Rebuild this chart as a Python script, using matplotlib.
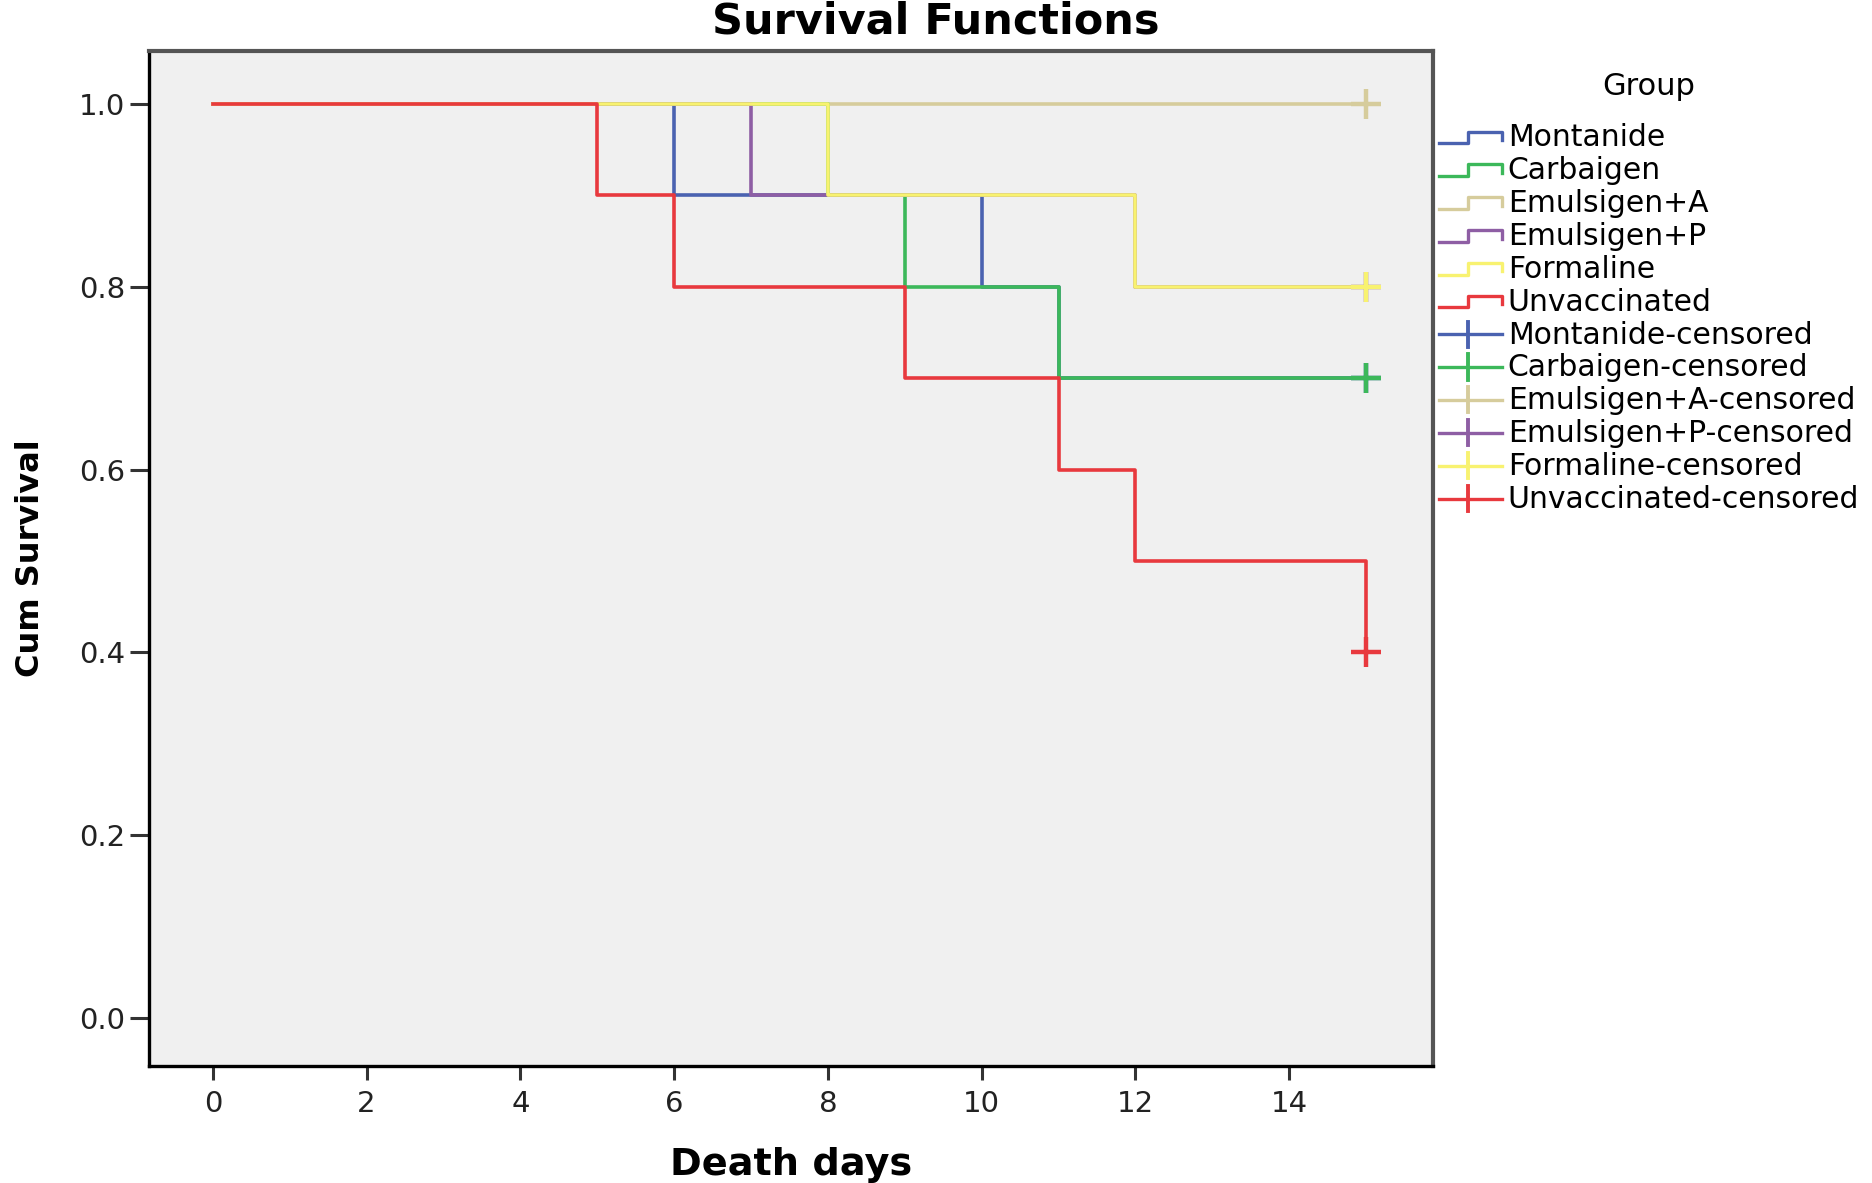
import matplotlib
matplotlib.use("Agg")
import matplotlib.pyplot as plt
from matplotlib.lines import Line2D
from matplotlib.legend_handler import HandlerBase

groups = ["Montanide", "Carbaigen", "Emulsigen+A", "Emulsigen+P", "Formaline", "Unvaccinated"]
colors = ["#4a62b0", "#3cb85a", "#d6cc9c", "#8e5ea4", "#f8f270", "#e8393e"]

# step times and cumulative survival for each group
mont_t = [0, 6, 10, 11, 15]
mont_s = [1.0, 0.9, 0.8, 0.7, 0.7]
carb_t = [0, 8, 9, 11, 15]
carb_s = [1.0, 0.9, 0.8, 0.7, 0.7]
emua_t = [0, 15]
emua_s = [1.0, 1.0]
emup_t = [0, 7, 12, 15]
emup_s = [1.0, 0.9, 0.8, 0.8]
form_t = [0, 8, 12, 15]
form_s = [1.0, 0.9, 0.8, 0.8]
unv_t = [0, 5, 6, 9, 11, 12, 15]
unv_s = [1.0, 0.9, 0.8, 0.7, 0.6, 0.5, 0.4]

# censored observations (last time, last survival)
cens_t = [15, 15, 15, 15, 15, 15]
cens_s = [0.7, 0.7, 1.0, 0.8, 0.8, 0.4]

times = [mont_t, carb_t, emua_t, emup_t, form_t, unv_t]
survs = [mont_s, carb_s, emua_s, emup_s, form_s, unv_s]
# drawing order (bottom to top)
order = [2, 0, 1, 3, 4, 5]

xticks = [0, 2, 4, 6, 8, 10, 12, 14]
yticks = [0.0, 0.2, 0.4, 0.6, 0.8, 1.0]


class StepHandler(HandlerBase):
    def create_artists(self, legend, orig, xd, yd, w, h, fs, trans):
        y0 = yd + h * 0.15
        y1 = y0 + h * 0.55
        xs = [xd, xd + w * 0.47, xd + w * 0.47, xd + w, xd + w]
        ys = [y0, y0, y1, y1, y1 - h * 0.4]
        ln = Line2D(xs, ys, color=orig.get_color(), lw=2.4, transform=trans)
        return [ln]


class CensHandler(HandlerBase):
    def create_artists(self, legend, orig, xd, yd, w, h, fs, trans):
        yc = yd + h * 0.45
        a = Line2D([xd, xd + w], [yc, yc], color=orig.get_color(), lw=2.4, transform=trans)
        b = Line2D([xd + w * 0.47, xd + w * 0.47], [yc - h * 0.6, yc + h * 0.6],
                   color=orig.get_color(), lw=2.8, transform=trans)
        return [a, b]


plt.rcParams["font.family"] = "DejaVu Sans"
fig = plt.figure(figsize=(18.72, 11.83), dpi=100)
ax = fig.add_axes([149 / 1872, 1 - 1066 / 1183, (1433 - 149) / 1872, (1066 - 51) / 1183])
ax.set_facecolor("#f0f0f0")

for i in order:
    ax.step(times[i], survs[i], where="post", color=colors[i], lw=2.6, zorder=2 + order.index(i))
    ax.plot(cens_t[i], cens_s[i], marker="+", ms=21, mew=3.2, color=colors[i],
            linestyle="none", zorder=2 + order.index(i))

ax.set_xlim(-0.83, 15.87)
ax.set_ylim(-0.0525, 1.058)
ax.set_xticks(xticks)
ax.set_yticks(yticks)
ax.set_yticklabels(["%.1f" % v for v in yticks])
ax.tick_params(direction="out", width=2.2, color="#333333", labelsize=21, labelcolor="#222222")
ax.tick_params(axis="y", length=14, pad=3)
ax.tick_params(axis="x", length=10, pad=7)
for s in ["left", "bottom"]:
    ax.spines[s].set_linewidth(2.4)
    ax.spines[s].set_color("black")
for s in ["top", "right"]:
    ax.spines[s].set_linewidth(3)
    ax.spines[s].set_color("#555555")

ax.set_xlabel("Death days", fontsize=27.5, fontweight="bold", labelpad=21)
ax.set_ylabel("Cum Survival", fontsize=23, fontweight="bold", labelpad=24)
fig.suptitle("Survival Functions", fontsize=31, fontweight="bold", x=0.5, y=1.0, va="top")

handles = []
labels = []
hmap = {}
for i, g in enumerate(groups):
    h = Line2D([], [], color=colors[i])
    handles.append(h)
    labels.append(g)
    hmap[h] = StepHandler()
for i, g in enumerate(groups):
    h = Line2D([], [], color=colors[i])
    handles.append(h)
    labels.append(g + "-censored")
    hmap[h] = CensHandler()

leg = fig.legend(handles, labels, handler_map=hmap, loc="upper left",
                 bbox_to_anchor=(1439 / 1872, 1 - 72 / 1183), frameon=False,
                 title="Group", fontsize=21.5, title_fontsize=22, handlelength=2.1,
                 handletextpad=0.2, labelspacing=0.13, borderpad=0, borderaxespad=0)
leg._legend_box.sep = 16

fig.savefig("out.png", dpi=100)
